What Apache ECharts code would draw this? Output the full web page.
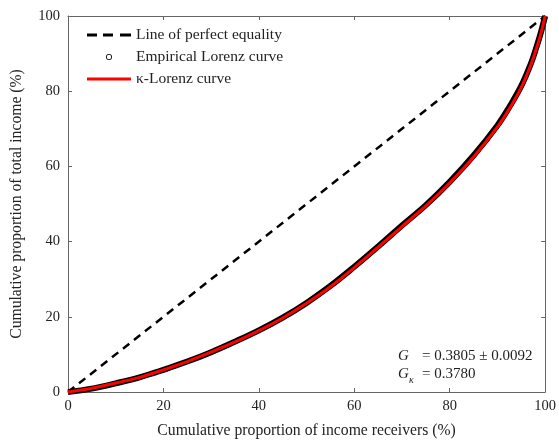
<!DOCTYPE html>
<html>
<head>
<meta charset="utf-8">
<script src="https://cdn.jsdelivr.net/npm/echarts@6/dist/echarts.min.js"></script>
<style>
  html, body { margin: 0; padding: 0; background: #fff; }
  #lorenz { width: 559px; height: 444px; }
</style>
</head>
<body>
<div id="lorenz"></div>
<script>
// tick labels
var xTicks = [0, 20, 40, 60, 80, 100];
var yTicks = [0, 20, 40, 60, 80, 100];

// line of perfect equality
var equalityX = [0, 100];
var equalityY = [0, 100];

// empirical Lorenz curve
var empiricalX = [0, 5, 10, 15, 20, 25, 30, 35, 40, 45, 50, 55, 60, 65, 70, 75, 80, 85, 90, 92.5, 95, 97, 98, 99, 100];
var empiricalY = [0, 0.9, 2.3, 3.9, 5.9, 8.1, 10.6, 13.4, 16.4, 19.8, 23.7, 28.2, 33.3, 38.7, 44.3, 49.7, 55.9, 62.9, 70.9, 75.8, 81.4, 87.3, 91.0, 95.1, 100];

// kappa-Lorenz curve
var kappaX = [0, 5, 10, 15, 20, 25, 30, 35, 40, 45, 50, 55, 60, 65, 70, 75, 80, 85, 90, 92.5, 95, 97, 98, 99, 100];
var kappaY = [0, 1.0, 2.4, 3.9, 5.9, 8.1, 10.6, 13.3, 16.3, 19.7, 23.6, 28.0, 33.1, 38.5, 44.0, 49.5, 55.6, 62.5, 70.5, 75.3, 81.0, 87.0, 90.7, 94.8, 100];

function pairs(xs, ys) {
    var out = [];
    for (var i = 0; i < xs.length; i++) out.push([xs[i], ys[i]]);
    return out;
}

var serif = 'Liberation Serif';
var axisColor = '#666';
var textColor = '#222';

// legend icons: the two tiny corner squares fix the icon box to 44x14
var box = ' M0,0H0.01V0.01H0Z M44,13.99H44.01V14H44Z';
var dashIcon = 'path://M0,5.6H10V8.4H0Z M16,5.6H26V8.4H16Z M33,5.6H44V8.4H33Z' + box;
var lineIcon = 'path://M0,5.6H44V8.4H0Z' + box;
var ringIcon = 'path://M22,4a3,3 0 1,1 0,6a3,3 0 1,1 0,-6Z M22,4.8a2.2,2.2 0 1,0 0,4.4a2.2,2.2 0 1,0 0,-4.4Z' + box;

var myChart = echarts.init(document.getElementById('lorenz'));

var baseX = {
    type: 'value', min: xTicks[0], max: xTicks[xTicks.length - 1], interval: xTicks[1] - xTicks[0],
    splitLine: { show: false },
    axisLine: { onZero: false, lineStyle: { color: axisColor, width: 1 } },
    axisTick: { inside: true, length: 4, lineStyle: { color: axisColor } }
};
var baseY = {
    type: 'value', min: yTicks[0], max: yTicks[yTicks.length - 1], interval: yTicks[1] - yTicks[0],
    splitLine: { show: false },
    axisLine: { onZero: false, lineStyle: { color: axisColor, width: 1 } },
    axisTick: { inside: true, length: 4, lineStyle: { color: axisColor } }
};

function legendAt(top, name, icon) {
    return {
        left: 87, top: top, padding: 0, itemWidth: 44, itemHeight: 14, itemGap: 0,
        textStyle: { fontFamily: serif, fontSize: 15.5, color: textColor },
        data: [{ name: name, icon: icon }]
    };
}

var option = {
    animation: false,
    backgroundColor: '#fff',
    grid: { left: 68, right: 11, top: 16, bottom: 49 },
    xAxis: [
        Object.assign({}, baseX, {
            position: 'bottom',
            name: 'Cumulative proportion of income receivers (%)',
            nameLocation: 'middle', nameGap: 31,
            nameTextStyle: { fontFamily: serif, fontSize: 15.7, color: textColor },
            axisLabel: { fontFamily: serif, fontSize: 14.5, color: textColor, margin: 7 }
        }),
        Object.assign({}, baseX, { position: 'top', axisLabel: { show: false } })
    ],
    yAxis: [
        Object.assign({}, baseY, {
            position: 'left',
            name: 'Cumulative proportion of total income (%)',
            nameLocation: 'middle', nameGap: 43,
            nameTextStyle: { fontFamily: serif, fontSize: 15.7, color: textColor },
            axisLabel: { fontFamily: serif, fontSize: 14.5, color: textColor, margin: 8 }
        }),
        Object.assign({}, baseY, { position: 'right', axisLabel: { show: false } })
    ],
    legend: [
        legendAt(27, 'Line of perfect equality', dashIcon),
        legendAt(49, 'Empirical Lorenz curve', ringIcon),
        legendAt(71, 'κ-Lorenz curve', lineIcon)
    ],
    series: [
        {
            name: 'Line of perfect equality', type: 'line', symbol: 'none',
            data: pairs(equalityX, equalityY),
            lineStyle: { color: '#000', width: 2.5, type: [8, 6] },
            itemStyle: { color: '#000' }, z: 3
        },
        {
            name: 'Empirical Lorenz curve', type: 'line', symbol: 'none', smooth: 0.4,
            data: pairs(empiricalX, empiricalY),
            lineStyle: { color: '#000', width: 6 },
            itemStyle: { color: '#000' }, z: 2
        },
        {
            name: 'κ-Lorenz curve', type: 'line', symbol: 'none', smooth: 0.4,
            data: pairs(kappaX, kappaY),
            lineStyle: { color: '#ff0000', width: 3 },
            itemStyle: { color: '#ff0000' }, z: 4
        }
    ],
    graphic: [
        { type: 'text', left: 398, top: 349, style: { text: 'G', font: 'italic 15px "Liberation Serif"', fill: textColor } },
        { type: 'text', left: 422, top: 349, style: { text: '= 0.3805 ± 0.0092', font: '15px "Liberation Serif"', fill: textColor } },
        { type: 'text', left: 398, top: 367, style: { text: 'G', font: 'italic 15px "Liberation Serif"', fill: textColor } },
        { type: 'text', left: 409, top: 375, style: { text: 'κ', font: 'italic 10px "Liberation Serif"', fill: textColor } },
        { type: 'text', left: 422, top: 367, style: { text: '= 0.3780', font: '15px "Liberation Serif"', fill: textColor } }
    ]
};

myChart.setOption(option);
window.addEventListener('resize', function () { myChart.resize(); });
</script>
</body>
</html>
